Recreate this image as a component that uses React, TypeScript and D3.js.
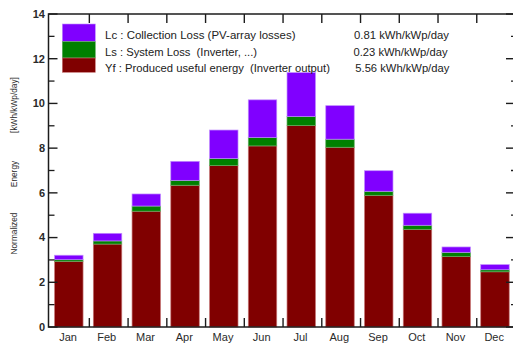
import React from "react";
import * as d3 from "d3";

// Monthly normalized production (kWh/kWp/day)
const months = ["Jan", "Feb", "Mar", "Apr", "May", "Jun", "Jul", "Aug", "Sep", "Oct", "Nov", "Dec"];
const yf = [2.94, 3.71, 5.18, 6.34, 7.22, 8.1, 9.01, 8.04, 5.89, 4.37, 3.15, 2.47];
const ls = [0.07, 0.14, 0.23, 0.22, 0.31, 0.37, 0.4, 0.36, 0.18, 0.18, 0.19, 0.09];
const lc = [0.2, 0.34, 0.54, 0.85, 1.28, 1.69, 1.97, 1.5, 0.92, 0.54, 0.24, 0.23];
const yTicks = [0, 2, 4, 6, 8, 10, 12, 14];

const seriesKeys = ["yf", "ls", "lc"];
const seriesFill: Record<string, string> = { yf: "#800000", ls: "#008000", lc: "#8000ff" };
const seriesEdge: Record<string, string> = { yf: "#c87878", ls: "#5fae5f", lc: "#c08cff" };

const legendLabels = [
  "Lc : Collection Loss (PV-array losses)",
  "Ls : System Loss  (Inverter, ...)",
  "Yf : Produced useful energy  (Inverter output)",
];
const legendValues = ["0.81 kWh/kWp/day", "0.23 kWh/kWp/day", "5.56 kWh/kWp/day"];
const legendKeys = ["lc", "ls", "yf"];

const W = 513;
const H = 347;
const frameLeft = 48.5;
const frameRight = 516;
const frameTop = 14;
const frameBottom = 327;

export default function App() {
  const x = d3.scaleLinear().domain([0, 12]).range([50.6, 515.5]);
  const y = d3.scaleLinear().domain([0, 14]).range([frameBottom, frameTop]);
  const step = x(1) - x(0);
  const barW = step * 0.735;

  const rows = months.map((m, i) => ({ m, yf: yf[i], ls: ls[i], lc: lc[i] }));
  const stacked = d3.stack<any>().keys(seriesKeys)(rows);

  const font = "'Liberation Sans', Arial, sans-serif";
  const ink = "#1c1c1c";

  const minorTicks = d3.range(1, 14, 2);
  const boundaries = d3.range(1, 12);

  return (
    <svg
      width={W}
      height={H}
      style={{ position: "absolute", left: 0, top: 0, background: "#fff" }}
      fontFamily={font}
    >
      {/* stacked bars */}
      {stacked.map((s) => (
        <g key={s.key}>
          {s.map((d, i) => (
            <rect
              key={i}
              x={x(i + 0.47) - barW / 2}
              width={barW}
              y={y(d[1])}
              height={Math.max(0, y(d[0]) - y(d[1]))}
              fill={seriesFill[s.key]}
              stroke={seriesEdge[s.key]}
              strokeWidth={0.7}
            />
          ))}
        </g>
      ))}

      {/* frame */}
      <rect
        x={frameLeft}
        y={frameTop}
        width={frameRight - frameLeft}
        height={frameBottom - frameTop}
        fill="none"
        stroke={ink}
        strokeWidth={1.5}
      />

      {/* y ticks, inward on both sides */}
      {yTicks.map((t) => (
        <g key={"yt" + t}>
          <line x1={frameLeft} x2={frameLeft + 9} y1={y(t)} y2={y(t)} stroke={ink} strokeWidth={1.4} />
          <line x1={frameRight} x2={frameRight - 10} y1={y(t)} y2={y(t)} stroke={ink} strokeWidth={1.4} />
          <text
            x={45}
            y={y(t)}
            dy="0.35em"
            textAnchor="end"
            fontSize={11}
            fontWeight="bold"
            fill="#2a2a2a"
          >
            {t}
          </text>
        </g>
      ))}
      {minorTicks.map((t) => (
        <g key={"ym" + t}>
          <line x1={frameLeft} x2={frameLeft + 6} y1={y(t)} y2={y(t)} stroke={ink} strokeWidth={1.3} />
          <line x1={frameRight} x2={frameRight - 5} y1={y(t)} y2={y(t)} stroke={ink} strokeWidth={1.3} />
        </g>
      ))}

      {/* month boundary ticks on top and bottom */}
      {boundaries.map((k) => (
        <g key={"xb" + k}>
          <line x1={x(k)} x2={x(k)} y1={frameBottom} y2={frameBottom - 9} stroke={ink} strokeWidth={1.4} />
          <line x1={x(k)} x2={x(k)} y1={frameTop} y2={frameTop + 9} stroke={ink} strokeWidth={1.4} />
        </g>
      ))}

      {/* month labels */}
      {months.map((m, i) => (
        <text key={m} x={x(i + 0.45)} y={340.5} textAnchor="middle" fontSize={11} fill="#2a2a2a">
          {m}
        </text>
      ))}

      {/* y-axis title */}
      <g fontSize={8.3} fill="#2a2a2a">
        <text transform={`translate(17,233.5) rotate(-90)`} textAnchor="middle">Normalized</text>
        <text transform={`translate(17,174) rotate(-90)`} textAnchor="middle">Energy</text>
        <text transform={`translate(17,105) rotate(-90)`} textAnchor="middle">[kWh/kWp/day]</text>
      </g>

      {/* legend */}
      {legendKeys.map((k, i) => {
        const top = [24, 41.7, 58][i];
        const bottom = [41.7, 58, 72.3][i];
        return (
          <rect
            key={"lg" + k}
            x={62.3}
            y={top}
            width={33}
            height={bottom - top}
            fill={seriesFill[k]}
            stroke={seriesEdge[k]}
            strokeWidth={0.6}
          />
        );
      })}
      {legendLabels.map((l, i) => (
        <text
          key={"ll" + i}
          x={105}
          y={[39.3, 55.8, 72.3][i]}
          fontSize={11}
          fill="#222"
          textLength={[190.5, 152, 225][i]}
          lengthAdjust="spacingAndGlyphs"
          style={{ whiteSpace: "pre" }}
        >
          {l}
        </text>
      ))}
      {legendValues.map((v, i) => (
        <text
          key={"lv" + i}
          x={[354, 353.5, 355.3][i]}
          y={[39.3, 55.8, 72.3][i]}
          fontSize={11}
          fill="#222"
          textLength={[95, 94, 94][i]}
          lengthAdjust="spacingAndGlyphs"
        >
          {v}
        </text>
      ))}
    </svg>
  );
}
